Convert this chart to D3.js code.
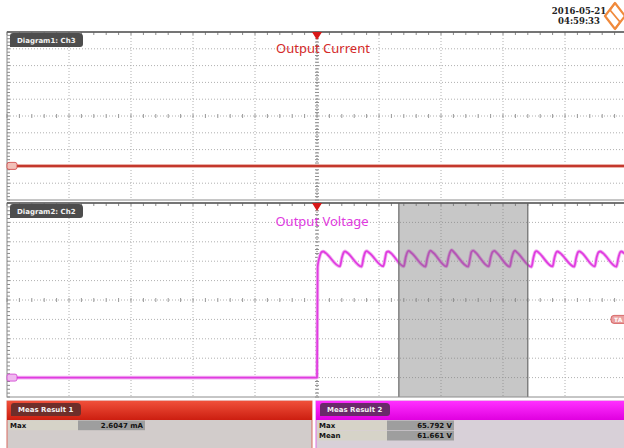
<!DOCTYPE html>
<html>
<head>
<meta charset="utf-8">
<script src="https://cdn.jsdelivr.net/npm/d3@7"></script>
<style>
  html, body { margin: 0; padding: 0; background: #fff; }
  svg { display: block; }
  .tab { font-family: "DejaVu Sans", sans-serif; font-weight: bold; font-size: 7px; fill: #f2f2f2; }
  .cell { font-family: "DejaVu Sans", sans-serif; font-weight: bold; font-size: 7px; fill: #111; }
</style>
</head>
<body>
<div id="scope"></div>
<script>
// ---- data ----
var timeDivs = [-5, -4, -3, -2, -1, 0, 1, 2, 3, 4, 5];        // horizontal divisions, trigger at 0
var currentTicks = [-20, -10, 0, 10, 20, 30, 40, 50, 60, 70, 80]; // mA, 10 mA/div
var voltageTicks = [-10, 0, 10, 20, 30, 40, 50, 60, 70, 80, 90];   // V, 10 V/div

var currentWave = [[-5, 0.3], [-2.5, 0.3], [0, 0.3], [2.5, 0.3], [5, 0.3]];

// [time div, volts]
var voltageWave = [
  [-5.00, 0.0], [0.00, 0.0],
  [0.01, 57.0], [0.04, 62.0], [0.07, 64.6], [0.10, 65.0], [0.14, 64.2],
  [0.37, 57.3], [0.40, 61.6], [0.43, 64.5], [0.45, 65.1], [0.49, 64.3],
  [0.72, 57.2], [0.75, 61.8], [0.78, 64.7], [0.80, 65.2], [0.84, 64.4],
  [1.07, 57.4], [1.10, 61.7], [1.12, 64.6], [1.15, 65.0], [1.19, 64.2],
  [1.40, 57.3], [1.43, 61.9], [1.46, 64.8], [1.48, 65.3], [1.52, 64.4],
  [1.75, 57.2], [1.78, 61.6], [1.81, 64.7], [1.83, 65.4], [1.87, 64.5],
  [2.09, 57.3], [2.12, 61.8], [2.15, 64.9], [2.17, 65.8], [2.21, 64.6],
  [2.44, 57.2], [2.47, 61.7], [2.49, 64.8], [2.52, 65.5], [2.56, 64.4],
  [2.77, 57.3], [2.80, 61.9], [2.83, 64.7], [2.86, 65.3], [2.90, 64.3],
  [3.11, 57.2], [3.14, 61.6], [3.17, 64.6], [3.19, 65.4], [3.23, 64.4],
  [3.46, 57.1], [3.49, 61.7], [3.52, 64.8], [3.54, 65.2], [3.58, 64.3],
  [3.80, 57.3], [3.83, 61.8], [3.86, 64.6], [3.88, 65.0], [3.92, 64.2],
  [4.15, 57.2], [4.18, 61.7], [4.21, 64.7], [4.23, 65.1], [4.27, 64.3],
  [4.48, 57.3], [4.51, 61.9], [4.54, 64.6], [4.57, 65.0], [4.61, 64.2],
  [4.83, 57.2], [4.86, 61.6], [4.89, 64.6], [4.91, 65.0], [4.95, 64.2],
  [5.00, 63.0]
];

var gate = [1.32, 3.40];          // measurement gate, divisions
var triggerLevel = 30;            // V
var stamp = ["2016-05-21", "04:59:33"];
var titles = ["Output Current", "Output Voltage"];
var tabs = ["Diagram1: Ch3", "Diagram2: Ch2"];
var meas1 = [["Max", "2.6047 mA"]];
var meas2 = [["Max", "65.792 V"], ["Mean", "61.661 V"]];

// ---- setup ----
var W = 624, H = 448;
var svg = d3.select("#scope").append("svg").attr("width", W).attr("height", H);
var defs = svg.append("defs");

var x = d3.scaleLinear().domain([-5, 5]).range([7, 627]);
var yI = d3.scaleLinear().domain([-20, 80]).range([200, 32]);
var yV = d3.scaleLinear().domain([-10, 90]).range([397, 203]);

function panel(y, ticks, id) {
  var g = svg.append("g");
  var top = y.range()[1], bot = y.range()[0];
  defs.append("clipPath").attr("id", id).append("rect")
    .attr("x", 7).attr("y", top).attr("width", 620).attr("height", bot - top);
  g.append("rect").attr("x", 7).attr("y", top).attr("width", 620).attr("height", bot - top)
    .attr("fill", "#fff");
  // dotted grid
  g.selectAll(".vg").data(timeDivs.slice(1, -1)).enter().append("line")
    .attr("x1", function(d){return x(d);}).attr("x2", function(d){return x(d);})
    .attr("y1", top).attr("y2", bot)
    .attr("stroke", "#b0b0b0").attr("stroke-width", 1).attr("stroke-dasharray", "1,2");
  g.selectAll(".hg").data(ticks.slice(1, -1)).enter().append("line")
    .attr("x1", 7).attr("x2", 627)
    .attr("y1", function(d){return y(d);}).attr("y2", function(d){return y(d);})
    .attr("stroke", "#b0b0b0").attr("stroke-width", 1).attr("stroke-dasharray", "1,2");
  // minor ticks on centre axes and frame
  var step = (ticks[1] - ticks[0]) / 5;
  var minorY = d3.range(ticks[0], ticks[ticks.length - 1] + step / 2, step);
  var minorX = d3.range(-5, 5.01, 0.2);
  var midY = y((ticks[0] + ticks[ticks.length - 1]) / 2);
  g.selectAll(".my").data(minorY).enter().append("line")
    .attr("x1", x(0) - 2).attr("x2", x(0) + 2)
    .attr("y1", function(d){return y(d);}).attr("y2", function(d){return y(d);})
    .attr("stroke", "#8a8a8a");
  g.selectAll(".mx").data(minorX).enter().append("line")
    .attr("x1", function(d){return x(d);}).attr("x2", function(d){return x(d);})
    .attr("y1", midY - 2).attr("y2", midY + 2)
    .attr("stroke", "#9a9a9a");
  g.selectAll(".ly").data(minorY).enter().append("line")
    .attr("x1", 7).attr("x2", 10)
    .attr("y1", function(d){return y(d);}).attr("y2", function(d){return y(d);})
    .attr("stroke", "#8a8a8a");
  g.selectAll(".tx").data(minorX).enter().append("line")
    .attr("x1", function(d){return x(d);}).attr("x2", function(d){return x(d);})
    .attr("y1", top).attr("y2", top + 3)
    .attr("stroke", "#8a8a8a");
  g.append("line").attr("x1", x(0)).attr("x2", x(0)).attr("y1", top).attr("y2", bot)
    .attr("stroke", "#9a9a9a").attr("stroke-dasharray", "1,2");
  return g;
}

var gI = panel(yI, currentTicks, "clipI");
var gV = panel(yV, voltageTicks, "clipV");

// traces (soft halo underneath, like the phosphor look of the screen)
var lineI = d3.line().x(function(d){return x(d[0]);}).y(function(d){return yI(d[1]);});
var lineV = d3.line().curve(d3.curveMonotoneX)
  .x(function(d){return x(d[0]);}).y(function(d){return yV(d[1]);});

gI.append("path").datum(currentWave).attr("d", lineI)
  .attr("clip-path", "url(#clipI)")
  .attr("fill", "none").attr("stroke", "#eab0a8").attr("stroke-width", 4);
gI.append("path").datum(currentWave).attr("d", lineI)
  .attr("clip-path", "url(#clipI)")
  .attr("fill", "none").attr("stroke", "#c4382c").attr("stroke-width", 2);

gV.append("path").datum(voltageWave).attr("d", lineV)
  .attr("clip-path", "url(#clipV)")
  .attr("fill", "none").attr("stroke", "#f2b4f2").attr("stroke-width", 3.6)
  .attr("stroke-linejoin", "round");
gV.append("path").datum(voltageWave).attr("d", lineV)
  .attr("clip-path", "url(#clipV)")
  .attr("fill", "none").attr("stroke", "#e03ce0").attr("stroke-width", 1.8)
  .attr("stroke-linejoin", "round");

// gate shading over the voltage trace
gV.append("rect")
  .attr("x", x(gate[0])).attr("y", yV.range()[1])
  .attr("width", x(gate[1]) - x(gate[0])).attr("height", yV.range()[0] - yV.range()[1])
  .attr("fill", "#7a7a7a").attr("fill-opacity", 0.42);
gV.selectAll(".gl").data(gate).enter().append("line")
  .attr("x1", function(d){return x(d);}).attr("x2", function(d){return x(d);})
  .attr("y1", yV.range()[1]).attr("y2", yV.range()[0])
  .attr("stroke", "#6a6a6a").attr("stroke-width", 1.2);

// frames
[[yI, gI], [yV, gV]].forEach(function(p) {
  var y = p[0], g = p[1], top = y.range()[1], bot = y.range()[0];
  g.append("rect").attr("x", 7).attr("y", top).attr("width", 620).attr("height", bot - top)
    .attr("fill", "none").attr("stroke", "#8c8c8c").attr("stroke-width", 1);
  g.append("line").attr("x1", 7).attr("x2", 627).attr("y1", top).attr("y2", top)
    .attr("stroke", "#5a5a5a").attr("stroke-width", 1.6);
  // trigger position marker
  g.append("path")
    .attr("d", "M" + (x(0) - 5) + "," + top + "L" + (x(0) + 5) + "," + top + "L" + x(0) + "," + (top + 8) + "Z")
    .attr("fill", "#d81818");
});

// diagram tabs
function tab(g, x0, y0, w, h, fill, label) {
  g.append("path")
    .attr("d", "M" + x0 + "," + (y0 + h) + "L" + x0 + "," + (y0 + 3) + "Q" + x0 + "," + y0 + " " + (x0 + 3) + "," + y0 +
      "L" + (x0 + w - 4) + "," + y0 + "Q" + (x0 + w) + "," + y0 + " " + (x0 + w) + "," + (y0 + 4) +
      "L" + (x0 + w) + "," + (y0 + h - 3) + "Q" + (x0 + w) + "," + (y0 + h) + " " + (x0 + w - 3) + "," + (y0 + h) + "Z")
    .attr("fill", fill);
  g.append("text").attr("class", "tab").attr("x", x0 + 7).attr("y", y0 + h / 2 + 2.5).text(label);
}
tab(gI, 10, 33, 73, 14, "#4d4d4d", tabs[0]);
tab(gV, 10, 204, 73, 14, "#4d4d4d", tabs[1]);

// titles
gI.append("text").attr("x", 323).attr("y", 53).attr("text-anchor", "middle")
  .style("font-family", "'Noto Sans', sans-serif").style("font-size", "13px")
  .attr("fill", "#d42a2a").text(titles[0]);
gV.append("text").attr("x", 322).attr("y", 226).attr("text-anchor", "middle")
  .style("font-family", "'Noto Sans', sans-serif").style("font-size", "13px")
  .attr("fill", "#e03ae0").text(titles[1]);

// channel offset markers
function chMarker(g, yy, stroke, fill) {
  g.append("rect").attr("x", 7).attr("y", yy - 3.5).attr("width", 10).attr("height", 7).attr("rx", 2)
    .attr("fill", fill).attr("stroke", stroke).attr("stroke-width", 0.8);
}
chMarker(gI, yI(0.3), "#d04040", "#f2c0b8");
chMarker(gV, yV(0), "#d040d0", "#f0b8f0");

// trigger level marker (right edge)
gV.append("rect").attr("x", 611).attr("y", yV(triggerLevel) - 4).attr("width", 16).attr("height", 8).attr("rx", 3)
  .attr("fill", "#eaa0a0").attr("stroke", "#d05050").attr("stroke-width", 0.8);
gV.append("text").attr("x", 614).attr("y", yV(triggerLevel) + 2.5)
  .style("font-family", "'DejaVu Sans', sans-serif").style("font-size", "6px").style("font-weight", "bold")
  .attr("fill", "#fff").text("TA");

// timestamp + logo
svg.selectAll(".stamp").data(stamp).enter().append("text")
  .attr("x", 579).attr("y", function(d, i){return 14 + i * 10;})
  .attr("text-anchor", "middle")
  .style("font-family", "'DejaVu Serif', serif").style("font-weight", "bold").style("font-size", "8.5px")
  .attr("fill", "#222").text(String);
var logo = svg.append("g").attr("fill", "none").attr("stroke", "#f08a3c").attr("stroke-width", 2.2)
  .attr("stroke-linejoin", "round");
logo.append("path").attr("d", "M615,3 L625,16 L615,29 L605,16 Z");
logo.append("path").attr("d", "M615,3 L610,10 L620,22 L615,29").attr("stroke-width", 1.8);

// measurement result boxes
function measBox(x0, w, top, bottom, tabFill, label, rows, bodyFill, border, gid) {
  var g = svg.append("g");
  var grad = defs.append("linearGradient").attr("id", gid).attr("x1", 0).attr("x2", 0).attr("y1", 0).attr("y2", 1);
  grad.append("stop").attr("offset", "0%").attr("stop-color", top);
  grad.append("stop").attr("offset", "100%").attr("stop-color", bottom);
  g.append("rect").attr("x", x0).attr("y", 401).attr("width", w).attr("height", 50)
    .attr("fill", bodyFill).attr("stroke", border).attr("stroke-width", 1);
  g.append("rect").attr("x", x0).attr("y", 401).attr("width", w).attr("height", 19)
    .attr("fill", "url(#" + gid + ")");
  tab(g, x0 + 4, 403, 70, 13, tabFill, label);
  var rowY = d3.scaleBand().domain(d3.range(rows.length)).range([420.5, 420.5 + rows.length * 10.3]);
  var r = g.selectAll(".row").data(rows).enter().append("g");
  r.append("rect").attr("x", x0 + 1).attr("y", function(d, i){return rowY(i);})
    .attr("width", 70).attr("height", rowY.bandwidth() - 0.6).attr("fill", "#d6d3c8");
  r.append("rect").attr("x", x0 + 71).attr("y", function(d, i){return rowY(i);})
    .attr("width", 67).attr("height", rowY.bandwidth() - 0.6).attr("fill", "#9e9e9e");
  r.append("text").attr("class", "cell").attr("x", x0 + 3).attr("y", function(d, i){return rowY(i) + 7.5;})
    .text(function(d){return d[0];});
  r.append("text").attr("class", "cell").attr("x", x0 + 136).attr("y", function(d, i){return rowY(i) + 7.5;})
    .attr("text-anchor", "end").text(function(d){return d[1];});
}
measBox(7, 305, "#f0503a", "#cc1e10", "#6e2e2a", "Meas Result 1", meas1, "#d2cccb", "#d86a60", "gradR");
measBox(316, 312, "#ff30ff", "#e000e0", "#6a2a6a", "Meas Result 2", meas2, "#d8d0d8", "#e070e0", "gradM");
</script>
</body>
</html>
